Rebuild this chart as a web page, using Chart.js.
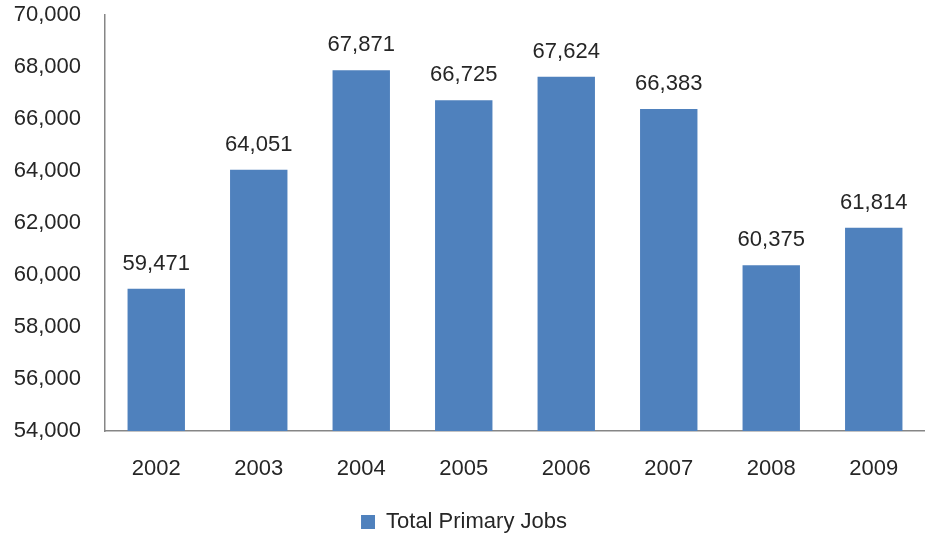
<!DOCTYPE html>
<html>
<head>
<meta charset="utf-8">
<script src="https://cdn.jsdelivr.net/npm/chart.js@4/dist/chart.umd.min.js"></script>
<style>
  html, body { margin: 0; padding: 0; background: #fff; }
  #wrap { width: 925px; height: 535px; }
</style>
</head>
<body>
<div id="wrap"><canvas id="jobsChart" width="925" height="535"></canvas></div>
<script>
// ---------- data ----------
const years = ["2002", "2003", "2004", "2005", "2006", "2007", "2008", "2009"];
const primaryJobs = [59471, 64051, 67871, 66725, 67624, 66383, 60375, 61814];
const seriesName = "Total Primary Jobs";
const yMin = 54000;
const yMax = 70000;
const yStep = 2000;

const textColor = "#262626";
const axisColor = "#868686";
const barColor = "#4F81BD";
const fontFamily = "'Liberation Sans', Arial, sans-serif";
const fontSize = 22;

// value labels above each bar
const barLabels = {
  id: "barLabels",
  afterDatasetsDraw(chart) {
    const ctx = chart.ctx;
    const meta = chart.getDatasetMeta(0);
    ctx.save();
    ctx.font = fontSize + "px " + fontFamily;
    ctx.fillStyle = textColor;
    ctx.textAlign = "center";
    ctx.textBaseline = "middle";
    meta.data.forEach((bar, i) => {
      ctx.fillText(primaryJobs[i].toLocaleString("en-US"), bar.x, bar.y - 25);
    });
    ctx.restore();
  }
};

new Chart(document.getElementById("jobsChart"), {
  type: "bar",
  data: {
    labels: years,
    datasets: [{
      label: seriesName,
      data: primaryJobs,
      backgroundColor: barColor,
      categoryPercentage: 1,
      barPercentage: 0.56
    }]
  },
  options: {
    responsive: false,
    animation: false,
    layout: { padding: { top: 0, right: -3, left: 0, bottom: -8 } },
    plugins: {
      tooltip: { enabled: false },
      legend: {
        position: "bottom",
        labels: {
          color: textColor,
          font: { family: fontFamily, size: fontSize },
          boxWidth: 14,
          boxHeight: 14,
          padding: 2
        }
      }
    },
    scales: {
      x: {
        grid: { drawOnChartArea: false, drawTicks: false },
        border: { color: axisColor, width: 1.5 },
        ticks: { color: textColor, font: { family: fontFamily, size: fontSize }, padding: 25 },
        afterFit(scale) { scale.height = 78; }
      },
      y: {
        min: yMin,
        max: yMax,
        grid: { drawOnChartArea: false, drawTicks: false },
        border: { color: axisColor, width: 1.5 },
        ticks: {
          stepSize: yStep,
          color: textColor,
          font: { family: fontFamily, size: fontSize },
          padding: 24,
          callback: v => v.toLocaleString("en-US")
        },
        afterFit(scale) {
          scale.width = 105;
          scale.paddingTop = 15;
        }
      }
    }
  },
  plugins: [barLabels]
});
</script>
</body>
</html>
